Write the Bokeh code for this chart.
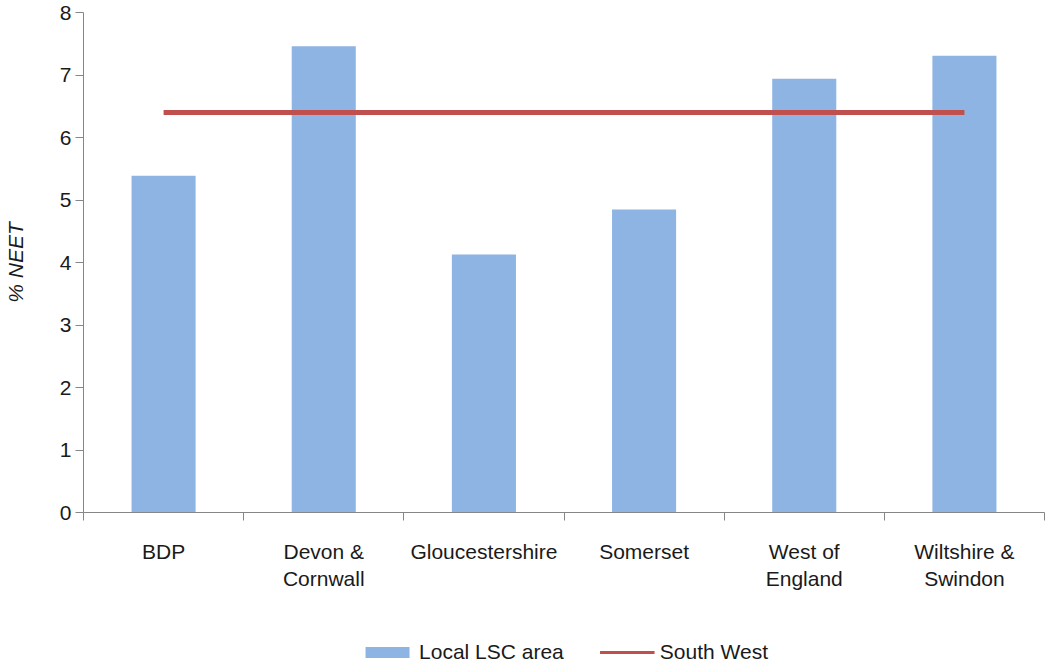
from bokeh.plotting import figure
from bokeh.layouts import column
from bokeh.models import (Range1d, FixedTicker, Legend, LegendItem,
                          ColumnDataSource)
from bokeh.embed import file_html
from bokeh.resources import INLINE

categories = ["BDP", "Devon &\nCornwall", "Gloucestershire", "Somerset",
              "West of\nEngland", "Wiltshire &\nSwindon"]
local_lsc = [5.39, 7.46, 4.13, 4.85, 6.94, 7.31]
south_west = [6.4, 6.4, 6.4, 6.4, 6.4, 6.4]
y_ticks = [0, 1, 2, 3, 4, 5, 6, 7, 8]
series_names = ["Local LSC area", "South West"]

FONT = "Liberation Sans"
AXIS_GREY = "#868686"
TEXT = "#1a1a1a"
BAR_COLOR = "#8EB4E3"
LINE_COLOR = "#C0504D"

n = len(categories)
centers = [i + 0.5 for i in range(n)]
bounds = list(range(n + 1))
src = ColumnDataSource(dict(x=centers, cat=categories, lsc=local_lsc, sw=south_west))

p = figure(frame_width=961, frame_height=500, output_backend="svg",
           toolbar_location=None,
           x_range=Range1d(0, n), y_range=Range1d(0, 8),
           min_border_left=83, min_border_right=2, min_border_top=12,
           min_border_bottom=92)
p.outline_line_color = None
p.grid.visible = False
p.background_fill_color = "white"

p.vbar(x="x", top="lsc", width=0.4, source=src,
       fill_color=BAR_COLOR, line_color=None)
p.line(x="x", y="sw", source=src, line_color=LINE_COLOR, line_width=5)

xa = p.xaxis[0]
xa.ticker = FixedTicker(ticks=centers, minor_ticks=bounds)
xa.major_label_overrides = {c: lab for c, lab in zip(centers, categories)}
xa.axis_line_color = AXIS_GREY
xa.major_tick_line_color = None
xa.major_tick_out = 0
xa.major_tick_in = 0
xa.minor_tick_line_color = AXIS_GREY
xa.minor_tick_out = 8
xa.minor_tick_in = 0
xa.major_label_text_font = FONT
xa.major_label_text_font_size = "21px"
xa.major_label_text_color = TEXT
xa.major_label_standoff = 19

ya = p.yaxis[0]
ya.ticker = FixedTicker(ticks=y_ticks)
ya.axis_line_color = AXIS_GREY
ya.major_tick_line_color = AXIS_GREY
ya.major_tick_out = 8
ya.major_tick_in = 0
ya.minor_tick_line_color = None
ya.major_label_text_font = FONT
ya.major_label_text_font_size = "21px"
ya.major_label_text_color = TEXT
ya.major_label_standoff = 4
ya.axis_label = "% NEET"
ya.axis_label_text_font = FONT
ya.axis_label_text_font_size = "21px"
ya.axis_label_text_font_style = "italic"
ya.axis_label_text_color = TEXT
ya.axis_label_standoff = 30

# legend strip below the chart (proxy glyphs: zero-height bar, single-point line)
lg = figure(frame_width=961, frame_height=62, output_backend="svg",
            toolbar_location=None, x_range=Range1d(0, 1), y_range=Range1d(0, 1),
            x_axis_location=None, y_axis_location=None,
            min_border_left=83, min_border_right=2, min_border_top=0,
            min_border_bottom=0)
lg.outline_line_color = None
lg.grid.visible = False
proxy = ColumnDataSource(dict(x=[0.5], top=[0], y=[0.5]))
r_bar = lg.vbar(x="x", top="top", width=0.4, source=proxy,
                fill_color=BAR_COLOR, line_color=None)
r_line = lg.line(x="x", y="y", source=proxy, line_color=LINE_COLOR, line_width=3)

legend = Legend(items=[LegendItem(label=series_names[0], renderers=[r_bar]),
                       LegendItem(label=series_names[1], renderers=[r_line])],
                orientation="horizontal", location="bottom_center",
                border_line_color=None, background_fill_alpha=0,
                label_text_font=FONT, label_text_font_size="21px",
                label_text_color=TEXT, glyph_width=55, glyph_height=14,
                spacing=36, label_standoff=5, margin=2, padding=2)
lg.add_layout(legend, "center")

layout = column(p, lg, spacing=0)
open("out.html", "w").write(file_html(layout, INLINE))
